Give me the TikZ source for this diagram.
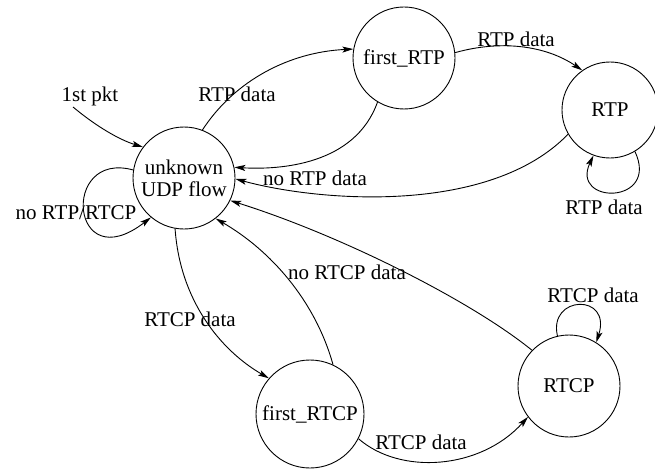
\documentclass[tikz,border=0pt]{standalone}
\usepackage{fontspec}
\setmainfont{Liberation Serif}
\usetikzlibrary{arrows.meta}
\tikzset{
  every node/.style={font=\fontsize{21}{22}\selectfont},
  state/.style={draw, circle, line width=0.9pt, inner sep=0pt, align=center},
  lbl/.style={anchor=base, inner sep=0pt},
  conn/.style={line width=0.9pt, -{Stealth[length=11pt,width=6pt,inset=2.5pt]}},
}
\begin{document}
\begin{tikzpicture}[x=1pt,y=-1pt]
\useasboundingbox (0,0) rectangle (655,468);
\clip (0,0) rectangle (655,468);
% states
\node[state, minimum size=102pt] (U) at (184,178) {unknown\\UDP flow};
\node[state, minimum size=102pt] (F) at (404,58) {first\_RTP};
\node[state, minimum size=96pt] (R) at (610,110) {RTP};
\node[state, minimum size=108pt] (C1) at (310,414) {first\_RTCP};
\node[state, minimum size=102pt] (C2) at (569,386) {RTCP};
% labels
\node[lbl] (lpkt) at (90,102) {1st pkt};
\coordinate (pkt) at (73,107);
\node[lbl] (lloop) at (76,219) {no RTP/RTCP};
\node[lbl] (lUF) at (237,102) {RTP data};
\node[lbl] (lnoRTP) at (315,185) {no RTP data};
\node[lbl] (lFR) at (516,47) {RTP data};
\node[lbl] (lRR) at (604,214) {RTP data};
\node[lbl] (lUC) at (190,326) {RTCP data};
\node[lbl] (lnoRTCP) at (347,279) {no RTCP data};
\node[lbl] (lCC) at (421,449) {RTCP data};
\node[lbl] (lC2) at (593,302) {RTCP data};
% connectors
\draw[conn] (pkt) .. controls (97,127) and (120,140) .. (U.143);
\draw[conn] (U.171) .. controls (60,150) and (70,280) .. (U.230);
\draw[conn] (U.69) .. controls (235,80) and (290,52) .. (F.170);
\draw[conn] (F.-121) .. controls (355,165) and (280,170) .. (U.12);
\draw[conn] (R.-150) .. controls (490,215) and (320,202) .. (U.-1);
\draw[conn] (F.6) .. controls (500,40) and (545,45) .. (R.125);
\draw[conn] (R.-59) .. controls (660,205) and (570,205) .. (R.-110);
\draw[conn] (U.-100) .. controls (180,300) and (220,350) .. (C1.139);
\draw[conn] (C1.65) .. controls (315,300) and (270,250) .. (U.-52.5);
\draw[conn] (C2.136) .. controls (470,300) and (340,235) .. (U.-26);
\draw[conn] (C1.-27.5) .. controls (400,475) and (480,470) .. (C2.-143);
\draw[conn] (C2.103) .. controls (548,295) and (612,293) .. (C2.58);
\end{tikzpicture}
\end{document}
